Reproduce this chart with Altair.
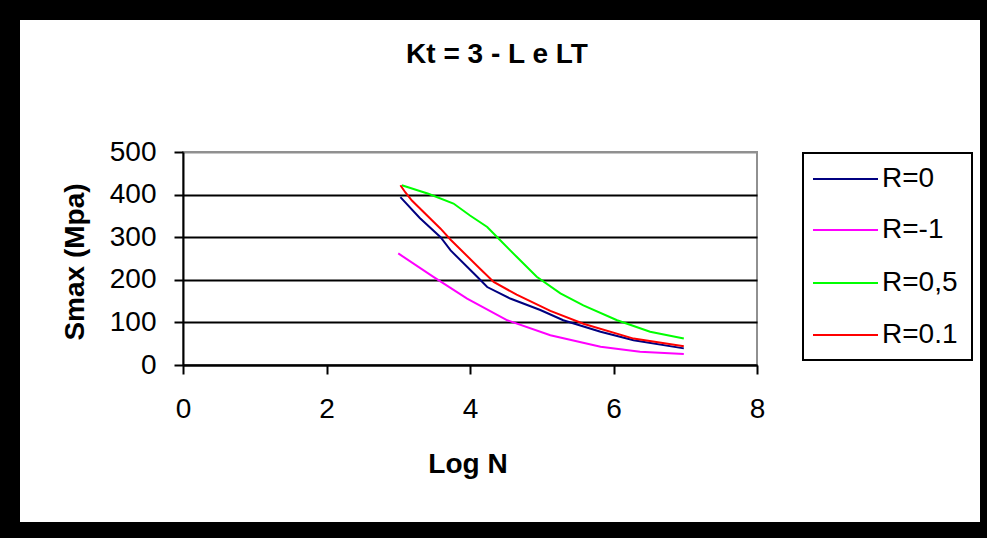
import altair as alt
import pandas as pd

# ---------------- data ----------------
series_names = ["R=0", "R=-1", "R=0,5", "R=0.1"]
series_colors = ["#000080", "#FF00FF", "#00FF00", "#FF0000"]

r0_x = [3.03, 3.30, 3.59, 3.73, 4.10, 4.24, 4.56, 4.98, 5.30, 5.82, 6.28, 6.98]
r0_y = [394, 345, 300, 269, 207, 183, 156, 129, 105, 78, 58, 39]

rm1_x = [3.00, 3.49, 3.96, 4.52, 5.12, 5.82, 6.37, 6.98]
rm1_y = [262, 207, 156, 105, 70, 43, 31, 26]

r05_x = [3.05, 3.31, 3.42, 3.77, 4.00, 4.24, 4.38, 4.65, 4.93, 5.26, 5.58, 6.05, 6.51, 6.98]
r05_y = [422, 408, 402, 379, 351, 324, 300, 254, 207, 168, 140, 105, 78, 62]

r01_x = [3.03, 3.10, 3.19, 3.59, 3.73, 4.14, 4.33, 4.65, 5.12, 5.58, 6.28, 6.98]
r01_y = [422, 405, 386, 320, 294, 226, 195, 165, 127, 97, 62, 44]

x_ticks = [0, 2, 4, 6, 8]
y_ticks = [0, 100, 200, 300, 400, 500]

title_text = "Kt = 3 - L e LT"
x_title = "Log N"
y_title = "Smax (Mpa)"

rows = []
for name, xs, ys in zip(series_names, [r0_x, rm1_x, r05_x, r01_x], [r0_y, rm1_y, r05_y, r01_y]):
    for i, (a, b) in enumerate(zip(xs, ys)):
        rows.append({"series": name, "x": a, "y": b, "i": i})
df = pd.DataFrame(rows)

# ---------------- layout ----------------
FONT = "Liberation Sans"
PL, PT = 183, 152
W, H = 574, 213
TOTAL_W, TOTAL_H = 987, 538

one = pd.DataFrame({"k": [0]})


def rx(v):
    return v - PL


def ry(v):
    return v - PT


lines = alt.Chart(df).mark_line(strokeWidth=2, clip=False).encode(
    x=alt.X(
        "x:Q",
        scale=alt.Scale(domain=[0, 8], nice=False, zero=False),
        axis=alt.Axis(
            values=x_ticks, title=None, grid=False,
            domainColor="black", domainWidth=2,
            tickColor="black", tickWidth=2, tickSize=9,
            labelFont=FONT, labelFontSize=28, labelColor="black",
            labelPadding=21, labelBaseline="top", labelFlush=False, labelOverlap=False,
        ),
    ),
    y=alt.Y(
        "y:Q",
        scale=alt.Scale(domain=[0, 500], nice=False),
        axis=alt.Axis(
            values=y_ticks, title=None, grid=True,
            gridColor={"condition": {"test": "datum.value === 500", "value": "#909090"}, "value": "black"},
            gridWidth=2,
            domainColor="black", domainWidth=2,
            tickColor="black", tickWidth=2, tickSize=9,
            labelFont=FONT, labelFontSize=28, labelColor="black",
            labelPadding=18, labelFlush=False, labelOverlap=False,
        ),
    ),
    color=alt.Color("series:N", scale=alt.Scale(domain=series_names, range=series_colors), legend=None),
    order=alt.Order("i:Q"),
)

layers = [lines]

# black outer frame
frame_boxes = [
    (0, TOTAL_W, 0, 20),
    (0, 20, 0, TOTAL_H),
    (980, TOTAL_W, 0, TOTAL_H),
    (0, TOTAL_W, 522, TOTAL_H),
]
for x0, x1, y0, y1 in frame_boxes:
    layers.append(
        alt.Chart(one).mark_rect(color="black").encode(
            x=alt.value(rx(x0)), x2=alt.value(rx(x1)), y=alt.value(ry(y0)), y2=alt.value(ry(y1))
        )
    )

# legend box
layers.append(
    alt.Chart(one).mark_rect(fill="white", stroke="black", strokeWidth=2).encode(
        x=alt.value(rx(803)), x2=alt.value(rx(972)), y=alt.value(ry(153)), y2=alt.value(ry(360))
    )
)
legend_rows = [179, 230, 283, 335]
for name, col, yy in zip(series_names, series_colors, legend_rows):
    layers.append(
        alt.Chart(one).mark_rule(color=col, strokeWidth=2).encode(
            x=alt.value(rx(813)), x2=alt.value(rx(878)), y=alt.value(ry(yy))
        )
    )
    layers.append(
        alt.Chart(one).mark_text(
            text=name, align="left", baseline="middle", font=FONT, fontSize=28, color="black"
        ).encode(x=alt.value(rx(882)), y=alt.value(ry(yy)))
    )

# titles
layers.append(
    alt.Chart(one).mark_text(
        text=title_text, align="center", baseline="middle", font=FONT, fontSize=28,
        fontWeight="bold", color="black"
    ).encode(x=alt.value(rx(497)), y=alt.value(ry(55)))
)
layers.append(
    alt.Chart(one).mark_text(
        text=x_title, align="center", baseline="middle", font=FONT, fontSize=28,
        fontWeight="bold", color="black"
    ).encode(x=alt.value(rx(468)), y=alt.value(ry(465)))
)
layers.append(
    alt.Chart(one).mark_text(
        text=y_title, align="center", baseline="middle", font=FONT, fontSize=28,
        fontWeight="bold", color="black", angle=270
    ).encode(x=alt.value(rx(76)), y=alt.value(ry(262)))
)

chart = alt.layer(*layers).properties(
    width=W,
    height=H,
    autosize=alt.AutoSizeParams(type="none"),
    padding={"left": PL, "top": PT, "right": TOTAL_W - PL - W, "bottom": TOTAL_H - PT - H},
    background="white",
).configure_view(stroke="#909090", strokeWidth=2)

chart.save("out.html", embed_options={"renderer": "svg", "actions": False})
